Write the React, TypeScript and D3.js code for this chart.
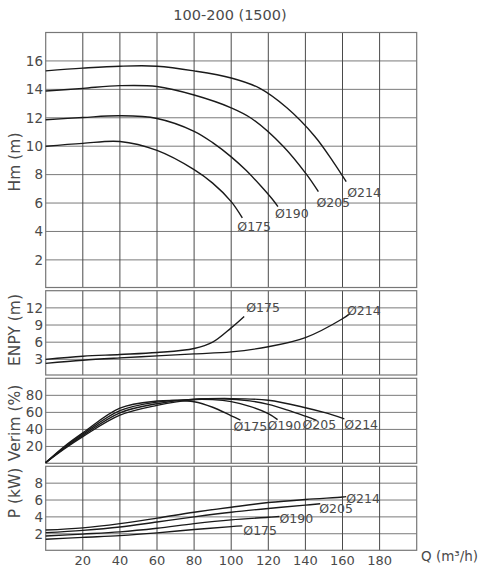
import React from 'react';
import * as d3 from 'd3';

type Pt = [number, number];

// Q (m3/h) axis
const Q_TICKS = [20, 40, 60, 80, 100, 120, 140, 160, 180];

// Hm (m)
const HM_TICKS = [2, 4, 6, 8, 10, 12, 14, 16];
const HM_175: Pt[] = [[0, 10.0], [20, 10.2], [40, 10.33], [60, 9.7], [80, 8.35], [90, 7.4], [100, 6.1], [106, 4.95]];
const HM_190: Pt[] = [[0, 11.86], [20, 12.02], [40, 12.14], [60, 11.95], [80, 11.05], [90, 10.25], [100, 9.25], [108, 8.3], [116, 7.2], [122, 6.3], [125.2, 5.75]];
const HM_205: Pt[] = [[0, 13.88], [20, 14.07], [40, 14.26], [60, 14.2], [80, 13.6], [100, 12.7], [111, 11.95], [128, 10.0], [140.7, 8.0], [147, 6.8]];
const HM_214: Pt[] = [[0, 15.3], [20, 15.49], [40, 15.63], [60, 15.63], [80, 15.3], [100, 14.8], [115, 14.1], [130, 12.7], [145, 10.7], [155, 8.9], [162, 7.5]];

// ENPY (m)
const ENPY_TICKS = [3, 6, 9, 12];
const ENPY_175: Pt[] = [[0, 3.0], [20, 3.55], [40, 3.85], [60, 4.2], [80, 4.9], [90, 6.0], [100, 8.5], [107, 10.5]];
const ENPY_214: Pt[] = [[0, 2.3], [20, 2.85], [40, 3.25], [60, 3.6], [80, 3.95], [100, 4.3], [120, 5.2], [140, 6.8], [160, 10.1], [164, 11.0]];

// Verim (%)
const VERIM_TICKS = [20, 40, 60, 80];
const VERIM_175: Pt[] = [[0, 1], [10, 20], [20, 36], [40, 65], [60, 73.3], [70, 74], [80, 72.5], [90, 66], [100, 56], [105, 51]];
const VERIM_190: Pt[] = [[0, 1], [10, 19], [20, 34.5], [40, 62], [60, 72.1], [80, 75.2], [90, 75], [100, 72.6], [110, 67], [120, 58.5], [125, 51.5]];
const VERIM_205: Pt[] = [[0, 1], [10, 18], [20, 33], [40, 59.5], [60, 70.2], [80, 75.5], [95, 76], [110, 73.5], [120, 69.4], [130, 63], [140, 55.5], [146, 50.7]];
const VERIM_214: Pt[] = [[0, 1], [10, 17], [20, 31.5], [40, 56.7], [60, 68.2], [80, 75], [100, 76.2], [120, 74.2], [140, 65.5], [150, 60], [161, 52.4]];

// P (kW)
const P_TICKS = [2, 4, 6, 8];
const P_175: Pt[] = [[0, 1.34], [20, 1.57], [40, 1.78], [60, 2.1], [80, 2.5], [100, 2.85], [106, 2.93]];
const P_190: Pt[] = [[0, 1.73], [20, 1.96], [40, 2.22], [60, 2.65], [80, 3.2], [100, 3.65], [120, 3.95], [126, 4.05]];
const P_205: Pt[] = [[0, 2.13], [20, 2.4], [40, 2.8], [60, 3.4], [80, 4.0], [100, 4.55], [120, 5.0], [140, 5.4], [148, 5.55]];
const P_214: Pt[] = [[0, 2.44], [20, 2.7], [40, 3.2], [60, 3.85], [80, 4.55], [100, 5.15], [120, 5.7], [140, 6.07], [160, 6.35], [162, 6.4]];

const FONT = '"DejaVu Sans", sans-serif';
const TEXT = '#4a4a4a';

interface Curve { d: string; pts: Pt[]; dx: number; dy: number; }
interface Panel {
  title: string;
  titleY: number;
  max: number;
  top: number;
  bottom: number;
  zero: number;
  ticks: number[];
  curves: Curve[];
}

const x = d3.scaleLinear().domain([0, 200]).range([45.7, 416.7]);

const PANELS: Panel[] = [
  {
    title: 'Hm (m)', titleY: 162, max: 18, top: 32.5, bottom: 287.5, zero: 288.3, ticks: HM_TICKS,
    curves: [
      { d: '175', pts: HM_175, dx: -5, dy: 13 },
      { d: '190', pts: HM_190, dx: -3, dy: 11 },
      { d: '205', pts: HM_205, dx: -2, dy: 15 },
      { d: '214', pts: HM_214, dx: 1, dy: 15 },
    ],
  },
  {
    title: 'ENPY (m)', titleY: 330, max: 15, top: 290.7, bottom: 375, zero: 376.5, ticks: ENPY_TICKS,
    curves: [
      { d: '175', pts: ENPY_175, dx: 2, dy: -4 },
      { d: '214', pts: ENPY_214, dx: -3, dy: 1 },
    ],
  },
  {
    title: 'Verim (%)', titleY: 423, max: 100, top: 378.3, bottom: 463.3, zero: 463.5, ticks: VERIM_TICKS,
    curves: [
      { d: '175', pts: VERIM_175, dx: -7, dy: 11 },
      { d: '190', pts: VERIM_190, dx: -10, dy: 10 },
      { d: '205', pts: VERIM_205, dx: -14, dy: 9 },
      { d: '214', pts: VERIM_214, dx: 0, dy: 10 },
    ],
  },
  {
    title: 'P (kW)', titleY: 493, max: 10, top: 466.3, bottom: 550.3, zero: 550.6, ticks: P_TICKS,
    curves: [
      { d: '175', pts: P_175, dx: 1, dy: 9 },
      { d: '190', pts: P_190, dx: 0, dy: 7 },
      { d: '205', pts: P_205, dx: -1, dy: 9 },
      { d: '214', pts: P_214, dx: 0, dy: 6 },
    ],
  },
];

const PanelView: React.FC<{ p: Panel }> = ({ p }) => {
  const y = d3.scaleLinear().domain([0, p.max]).range([p.zero, p.top]);
  const line = d3.line<Pt>().x(d => x(d[0])).y(d => y(d[1])).curve(d3.curveCatmullRom.alpha(0.5));
  const [x0, x1] = x.range();
  return (
    <g>
      {p.ticks.map(t => (
        <line key={'h' + t} x1={x0} x2={x1} y1={y(t)} y2={y(t)} stroke="#7a7a7a" strokeWidth={1} />
      ))}
      {Q_TICKS.map(t => (
        <line key={'v' + t} x1={x(t)} x2={x(t)} y1={p.top} y2={p.bottom} stroke="#4a4a4a" strokeWidth={1} />
      ))}
      <rect x={x0} y={p.top} width={x1 - x0} height={p.bottom - p.top} fill="none" stroke="#777" strokeWidth={1.2} />
      {p.ticks.map(t => (
        <text key={'t' + t} x={43} y={y(t)} dy="0.36em" textAnchor="end" fontSize={13.5} fill={TEXT}>{t}</text>
      ))}
      <text transform={`translate(20,${p.titleY}) rotate(-90)`} textAnchor="middle" fontSize={15.5} fill={TEXT}>{p.title}</text>
      {p.curves.map(c => {
        const end = c.pts[c.pts.length - 1];
        return (
          <g key={c.d}>
            <path d={line(c.pts) || ''} fill="none" stroke="#1a1a1a" strokeWidth={1.4} />
            <text x={x(end[0]) + c.dx} y={y(end[1]) + c.dy} fontSize={12.5} fill={TEXT}>{'Ø' + c.d}</text>
          </g>
        );
      })}
    </g>
  );
};

const App: React.FC = () => {
  return (
    <svg width={488} height={580} style={{ position: 'absolute', left: 0, top: 0, background: '#fff' }} fontFamily={FONT}>
      <rect width={488} height={580} fill="#fff" />
      <text x={230} y={20} textAnchor="middle" fontSize={14.5} fill={TEXT}>100-200 (1500)</text>
      {PANELS.map(p => <PanelView key={p.title} p={p} />)}
      {Q_TICKS.map(t => (
        <text key={t} x={x(t)} y={565} textAnchor="middle" fontSize={13} fill={TEXT}>{t}</text>
      ))}
      <text x={421} y={561} fontSize={13.5} fill={TEXT}>Q (m³/h)</text>
    </svg>
  );
};

export default App;
